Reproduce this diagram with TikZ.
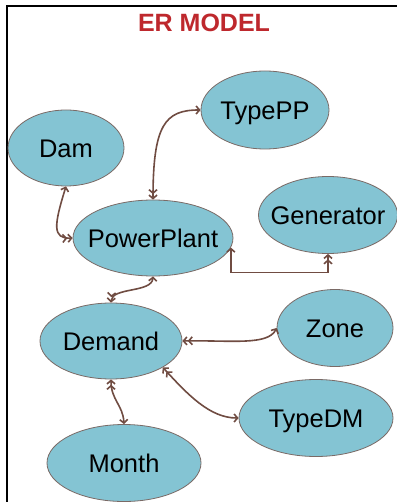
\documentclass[tikz,border=0pt]{standalone}
\usepackage{fontspec}
\setmainfont{Liberation Sans}
\usetikzlibrary{shapes.geometric,arrows.meta}
\definecolor{ellfill}{RGB}{132,196,211}
\definecolor{ellline}{RGB}{122,106,102}
\definecolor{arrc}{RGB}{112,76,66}
\definecolor{titlec}{RGB}{190,40,45}
\newcommand{\entlabel}[1]{\makebox[0pt][c]{#1}}
\begin{document}
\begin{tikzpicture}[x=1pt,y=-1pt,
  >={Straight Barb[length=3.5pt,width=8pt]},
  ent/.style={ellipse, draw=ellline, line width=0.8pt, fill=ellfill, inner sep=0pt,
    font=\fontsize{25.5}{30}\selectfont, text height=18.3pt, text depth=0pt},
  rel/.style={draw=arrc, line width=1.6pt, <->>},
  frameline/.style={draw=black, line width=2pt}]
\useasboundingbox (0,0) rectangle (396,502);
\fill[white] (0,0) rectangle (396,502);
\draw[frameline] (7,510) -- (7,6) -- (400,6);
\node[font=\bfseries\fontsize{25}{30}\selectfont, text=titlec, anchor=base] (title) at (204,31.7) {ER MODEL};
\node[ent, minimum width=116pt, minimum height=76pt] (dam) at (66,148) {\entlabel{Dam}};
\node[ent, minimum width=128pt, minimum height=78pt] (typepp) at (265,110) {\entlabel{TypePP}};
\node[ent, minimum width=160pt, minimum height=76pt] (pp) at (153,238) {\entlabel{PowerPlant}};
\node[ent, minimum width=139pt, minimum height=77pt] (gen) at (328,215) {\entlabel{Generator}};
\node[ent, minimum width=142pt, minimum height=76pt] (demand) at (111,341) {\entlabel{Demand}};
\node[ent, minimum width=116pt, minimum height=77pt] (zone) at (335,328) {\entlabel{Zone}};
\node[ent, minimum width=154pt, minimum height=77pt] (typedm) at (316,418) {\entlabel{TypeDM}};
\node[ent, minimum width=154pt, minimum height=77pt] (month) at (124,463) {\entlabel{Month}};
\draw[rel] (dam.south) .. controls (54,225) and (52,239) .. (pp.west);
\draw[rel] (typepp.west) .. controls (165,110) and (153,125) .. (pp.north);
\draw[rel] (pp.south) .. controls (152,293) and (112,287) .. (demand.north);
\draw[rel] (pp.-7.4) -- ++(0,25) -| (gen.south);
\draw[rel] (zone.west) .. controls (268,346) and (230,340) .. (demand.east);
\draw[rel] (typedm.west) .. controls (210,418) and (188,395) .. (demand.-27);
\draw[rel] (month.north) .. controls (123,405) and (111,400) .. (demand.south);
\end{tikzpicture}
\end{document}
